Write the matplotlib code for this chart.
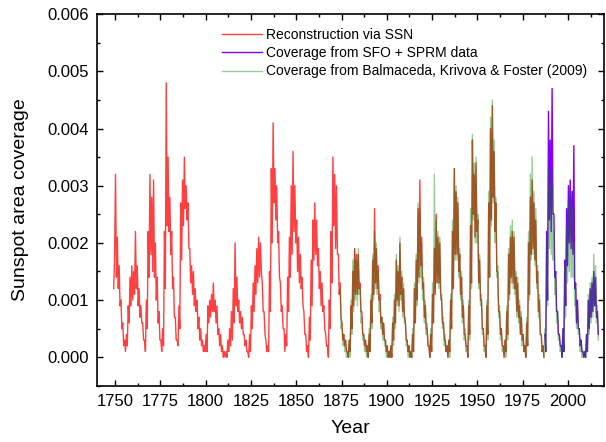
import numpy as np
import matplotlib.pyplot as plt
from matplotlib.ticker import MultipleLocator, FormatStrFormatter

plt.rcParams['font.family'] = ['Liberation Sans', 'DejaVu Sans']

# two readings per year (high, low), units of 1e-4
red_start = 1749
red_vals = [
    12, 18, 32, 14, 21, 12, 16, 9, 10, 5, 6, 2, 3, 1, 4, 2, 9, 6, 14, 9,      # 1749-1758
    16, 10, 15, 11, 22, 12, 16, 9, 12, 7, 9, 6, 6, 3, 3, 1, 10, 5, 22, 14,    # 1759-1768
    32, 18, 28, 15, 31, 14, 20, 10, 14, 6, 8, 3, 3, 1, 5, 2, 22, 12, 48, 23,  # 1769-1778
    35, 22, 28, 18, 22, 12, 14, 7, 7, 3, 3, 2, 9, 5, 27, 17, 31, 23, 35, 26,  # 1779-1788
    30, 24, 27, 19, 19, 13, 16, 11, 15, 9, 12, 8, 10, 5, 7, 3, 5, 2, 3, 1,    # 1789-1798
    2, 1, 4, 1, 9, 6, 10, 7, 11, 8, 13, 8, 10, 6, 9, 4, 5, 2, 4, 1,           # 1799-1808
    2, 0, 1, 0, 1, 0, 3, 1, 5, 2, 8, 3, 12, 6, 20, 9, 14, 8, 10, 6,           # 1809-1818
    8, 5, 7, 4, 4, 2, 3, 1, 1, 0, 4, 1, 9, 5, 13, 8, 16, 11, 19, 13,          # 1819-1828
    21, 14, 20, 15, 13, 8, 8, 4, 3, 1, 2, 1, 15, 8, 33, 20, 41, 27, 33, 24,   # 1829-1838
    30, 20, 22, 14, 13, 8, 9, 5, 5, 1, 4, 2, 14, 8, 21, 14, 30, 18, 36, 22,   # 1839-1848
    30, 20, 24, 15, 21, 13, 18, 12, 14, 9, 8, 4, 4, 1, 2, 0, 7, 3, 17, 9,     # 1849-1858
    24, 17, 27, 18, 24, 16, 19, 12, 15, 9, 13, 8, 9, 5, 4, 2, 2, 0, 10, 5,    # 1859-1868
    22, 13, 35, 23, 32, 19, 30, 18, 18, 11, 13, 7, 6, 3, 4, 2, 3, 1, 1, 0,    # 1869-1878
    3, 1, 9, 5, 15, 9, 19, 11, 18, 11, 18, 12, 13, 8, 8, 4, 4, 2, 3, 1,       # 1879-1888
    2, 0, 4, 1, 10, 6, 17, 11, 26, 13, 19, 12, 16, 10, 11, 6, 7, 4, 6, 3,     # 1889-1898
    3, 1, 2, 0, 1, 0, 2, 0, 6, 3, 10, 6, 17, 10, 15, 9, 20, 11, 14, 8,        # 1899-1908
    12, 7, 6, 3, 3, 1, 2, 0, 1, 0, 4, 1, 12, 6, 17, 10, 26, 14, 31, 16,       # 1909-1918
    21, 12, 13, 7, 9, 5, 5, 2, 2, 0, 4, 1, 11, 6, 19, 11, 25, 13, 21, 13,     # 1919-1928
    20, 11, 10, 6, 6, 3, 3, 1, 2, 0, 3, 1, 10, 5, 22, 12, 33, 18, 29, 18,     # 1929-1938
    27, 15, 18, 11, 14, 7, 9, 4, 4, 2, 2, 0, 9, 4, 23, 13, 38, 25, 32, 21,    # 1939-1948
    34, 22, 24, 13, 17, 10, 10, 5, 5, 2, 2, 0, 9, 4, 27, 14, 40, 24, 44, 28,  # 1949-1958
    36, 22, 27, 15, 15, 8, 8, 4, 5, 2, 2, 0, 3, 1, 8, 4, 18, 11, 21, 14,      # 1959-1968
    22, 13, 21, 12, 14, 8, 13, 7, 9, 4, 7, 3, 4, 1, 2, 0, 6, 2, 20, 11,       # 1969-1978
    28, 18, 31, 19, 27, 17, 24, 13, 15, 8, 10, 4, 4, 1, 2, 0,                 # 1979-1986
]

purple_start = 1987
purple_vals = [
    4, 1, 22, 10, 43, 24, 38, 22, 47, 25, 25, 14, 15, 8, 8, 4, 4, 2, 2, 0,    # 1987-1996
    5, 1, 17, 9, 26, 16, 30, 20, 31, 19, 29, 18, 37, 12, 13, 6, 10, 5, 5, 2,  # 1997-2006
    3, 1, 1, 0, 1, 0, 4, 1, 10, 5, 12, 7, 13, 8, 15, 9, 14, 7, 8, 4,          # 2007-2016
]

green_start = 1874
green_vals = [
    12, 5, 6, 2, 4, 1, 3, 0, 1, 0, 3, 0, 10, 4, 17, 8, 19, 10, 17, 9,         # 1874-1883
    19, 11, 12, 6, 7, 3, 4, 1, 3, 0, 2, 0, 5, 1, 11, 5, 18, 10, 22, 12,       # 1884-1893
    20, 11, 15, 8, 10, 5, 7, 3, 6, 2, 3, 0, 2, 0, 1, 0, 2, 0, 7, 2,           # 1894-1903
    11, 5, 18, 9, 16, 8, 21, 10, 15, 7, 13, 6, 7, 2, 3, 0, 2, 0, 1, 0,        # 1904-1913
    5, 1, 13, 6, 18, 9, 27, 13, 26, 14, 20, 10, 14, 6, 10, 4, 6, 2, 2, 0,     # 1914-1923
    5, 1, 13, 6, 32, 12, 24, 13, 22, 12, 21, 10, 11, 5, 7, 2, 4, 1, 2, 0,     # 1924-1933
    3, 0, 11, 5, 24, 12, 33, 17, 30, 17, 28, 14, 19, 10, 15, 6, 10, 3, 5, 1,  # 1934-1943
    2, 0, 10, 3, 26, 12, 39, 24, 34, 20, 35, 20, 25, 12, 18, 9, 11, 4, 5, 1,  # 1944-1953
    2, 0, 10, 3, 29, 14, 42, 23, 45, 27, 38, 20, 28, 14, 16, 7, 9, 3, 5, 1,   # 1954-1963
    2, 0, 3, 0, 9, 3, 19, 10, 23, 13, 24, 12, 22, 11, 15, 7, 14, 6, 10, 4,    # 1964-1973
    8, 2, 4, 1, 2, 0, 7, 2, 22, 10, 32, 17, 35, 18, 29, 16, 26, 12, 16, 7,    # 1974-1983
    11, 4, 4, 1, 2, 0, 5, 1, 21, 9, 33, 19, 30, 18, 33, 17, 22, 11, 14, 6,    # 1984-1993
    8, 3, 4, 1, 2, 0, 5, 1, 16, 7, 23, 13, 27, 15, 29, 14, 26, 14, 20, 9,     # 1994-2003
    12, 5, 9, 4, 5, 1, 3, 0, 1, 0, 1, 0, 4, 1, 11, 4, 13, 6, 14, 7,           # 2004-2013
    18, 9, 16, 6, 9, 3,                                                       # 2014-2016
]

labels = ['Reconstruction via SSN', 'Coverage from SFO + SPRM data',
          'Coverage from Balmaceda, Krivova & Foster (2009)']


def half_year_times(start, vals):
    return start + 0.25 + 0.5 * np.arange(len(vals))


fig = plt.figure(figsize=(6.06, 4.42), dpi=100)
ax = fig.add_axes([0.160, 0.127, 0.837, 0.841])

ax.plot(half_year_times(red_start, red_vals), np.array(red_vals) * 1e-4,
        color='#ff0000', lw=1.0, alpha=0.75, label=labels[0])
ax.plot(half_year_times(purple_start, purple_vals), np.array(purple_vals) * 1e-4,
        color='#8000ff', lw=1.0, alpha=1.0, label=labels[1])
ax.plot(half_year_times(green_start, green_vals), np.array(green_vals) * 1e-4,
        color='#008000', lw=1.0, alpha=0.4, label=labels[2])

ax.set_xlim(1740, 2020)
ax.set_ylim(-0.0005, 0.006)
ax.xaxis.set_major_locator(MultipleLocator(25))
ax.xaxis.set_minor_locator(MultipleLocator(12.5))
ax.yaxis.set_major_locator(MultipleLocator(0.001))
ax.yaxis.set_minor_locator(MultipleLocator(0.0005))
ax.yaxis.set_major_formatter(FormatStrFormatter('%.3f'))

ax.tick_params(which='both', direction='in', top=True, right=True, width=1.0,
               labelsize=12, pad=6)
ax.tick_params(which='major', length=4)
ax.tick_params(which='minor', length=2)
for s in ax.spines.values():
    s.set_linewidth(1.2)

ax.set_xlabel('Year', fontsize=14, labelpad=8)
ax.set_ylabel('Sunspot area coverage', fontsize=14, labelpad=13)

ax.legend(loc='upper left', bbox_to_anchor=(0.221, 0.996), frameon=False,
          fontsize=10, handlelength=2.9, handletextpad=0.3, labelspacing=0.3)

fig.savefig('out.png', dpi=100)
